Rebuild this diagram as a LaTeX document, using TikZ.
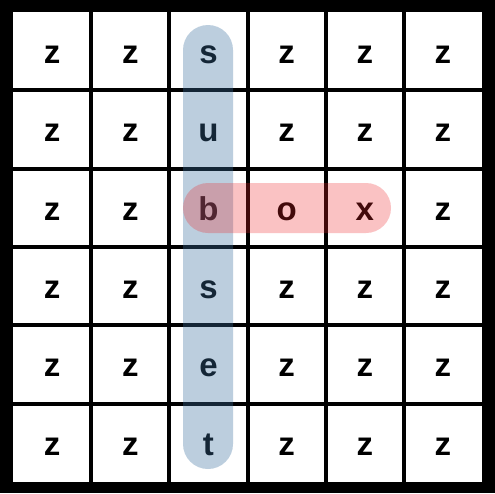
\documentclass[tikz,border=0pt]{standalone}
\usepackage{fontspec}
\setmainfont{Liberation Sans}
\definecolor{barblue}{RGB}{60,112,160}
\definecolor{barred}{RGB}{238,38,40}

\begin{document}
\begin{tikzpicture}[x=1pt,y=-1pt,
        letter/.style={font=\fontsize{33}{33}\selectfont\bfseries, inner sep=0pt, anchor=base}]
            \fill[black] (0,0) rectangle (495,493);
            \fill[white] (13,12) rectangle (482,482);
            \foreach \k in {1,...,5}{
                \draw[line width=4pt] ({13+78.17*\k},12) -- ({13+78.17*\k},482);
                \draw[line width=4pt] (13,{12+78.33*\k}) -- (482,{12+78.33*\k});
            }
            \foreach [count=\r from 0] \row in {{z,z,s,z,z,z},{z,z,u,z,z,z},{z,z,b,o,x,z},{z,z,s,z,z,z},{z,z,e,z,z,z},{z,z,t,z,z,z}}{
                \foreach [count=\c from 0] \ch in \row{
                    \node[letter] (l-\r-\c) at ({13+78.17*(\c+0.5)},{12+78.33*(\r+0.5)+12.5}) {\ch};
                }
            }

            % the two words
            \fill[barblue, opacity=0.34, rounded corners=25pt] (183,25) rectangle (233,469);
            \fill[barred, opacity=0.28, rounded corners=25pt] (183,183) rectangle (391,233);
        \end{tikzpicture}
\end{document}
